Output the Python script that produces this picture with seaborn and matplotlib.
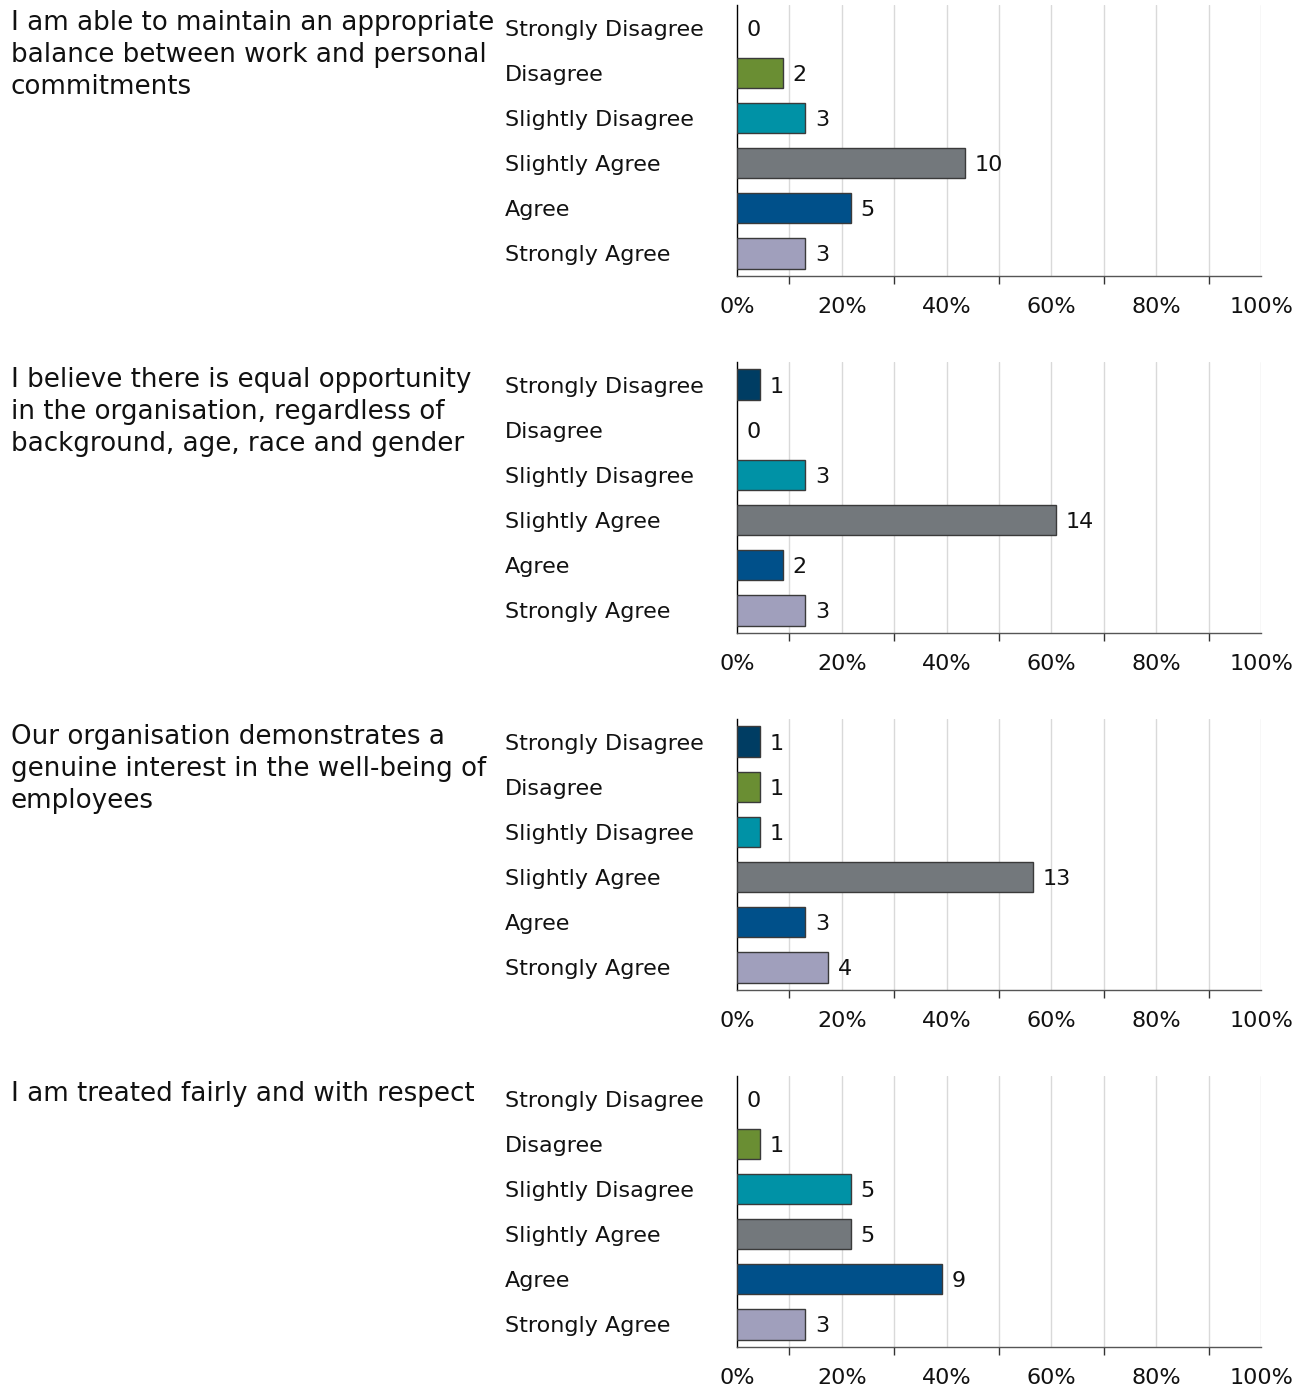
import matplotlib
matplotlib.use("Agg")
import matplotlib.pyplot as plt
from matplotlib.ticker import FixedLocator, FuncFormatter
import seaborn as sns
import pandas as pd

# Response scale and colours
categories = ["Strongly Disagree", "Disagree", "Slightly Disagree",
              "Slightly Agree", "Agree", "Strongly Agree"]
colors = ["#003D63", "#6A8E33", "#0092A6", "#73787C", "#00508A", "#A09FBC"]

# Survey statements
questions = [
    "I am able to maintain an appropriate\nbalance between work and personal\ncommitments",
    "I believe there is equal opportunity\nin the organisation, regardless of\nbackground, age, race and gender",
    "Our organisation demonstrates a\ngenuine interest in the well-being of\nemployees",
    "I am treated fairly and with respect",
]

# Response counts per statement
counts_q1 = [0, 2, 3, 10, 5, 3]
counts_q2 = [1, 0, 3, 14, 2, 3]
counts_q3 = [1, 1, 1, 13, 3, 4]
counts_q4 = [0, 1, 5, 5, 9, 3]
all_counts = [counts_q1, counts_q2, counts_q3, counts_q4]

x_ticks = [0, 20, 40, 60, 80, 100]
x_minor = [10, 30, 50, 70, 90, 100]

sns.set_theme(style="white")
plt.rcParams["font.family"] = ["DejaVu Sans"]

W, H = 1308, 1387
fig = plt.figure(figsize=(W / 100, H / 100), dpi=100)

ax_left, ax_width, ax_height = 737, 524, 271
tops = [5, 362, 719, 1076]
label_fs = 16

for q, counts, top in zip(questions, all_counts, tops):
    total = sum(counts)
    df = pd.DataFrame({
        "category": categories,
        "count": counts,
        "pct": [c / total * 100 for c in counts],
    })
    ax = fig.add_axes([ax_left / W, 1 - (top + ax_height) / H,
                       ax_width / W, ax_height / H])
    sns.barplot(data=df, y="category", x="pct", hue="category",
                palette=colors, order=categories, hue_order=categories,
                orient="h", width=0.67, saturation=1, edgecolor="#3a3a3a",
                linewidth=1, legend=False, ax=ax, zorder=3)
    # hide zero-width bars' outlines
    for patch in ax.patches:
        if patch.get_width() == 0:
            patch.set_visible(False)

    ax.set_xlim(0, 100)
    ax.set_ylim(5.5, -0.5)
    ax.set_xlabel("")
    ax.set_ylabel("")

    # gridlines every 10%
    for g in range(10, 101, 10):
        ax.axvline(g, color="#d9d9d9", lw=1, zorder=0)

    ax.xaxis.set_major_locator(FixedLocator(x_ticks))
    ax.xaxis.set_major_formatter(FuncFormatter(lambda v, p: f"{int(v)}%"))
    ax.xaxis.set_minor_locator(FixedLocator(x_minor))
    ax.tick_params(axis="x", which="major", length=0, pad=15, labelsize=label_fs,
                   labelcolor="#111111")
    ax.tick_params(axis="x", which="minor", length=6, width=1, color="#333333",
                   direction="out", bottom=True)

    ax.tick_params(axis="y", length=0, pad=232 * 0.72, labelsize=label_fs,
                   labelcolor="#111111")
    for lab in ax.get_yticklabels():
        lab.set_horizontalalignment("left")
        lab.set_verticalalignment("center_baseline")

    for s in ["top", "right"]:
        ax.spines[s].set_visible(False)
    ax.spines["left"].set_color("#000000")
    ax.spines["left"].set_linewidth(1)
    ax.spines["bottom"].set_color("#555555")
    ax.spines["bottom"].set_linewidth(1)

    # value labels
    for i, (c, p) in enumerate(zip(counts, df["pct"])):
        ax.annotate(str(c), xy=(p, i), xytext=(7, 0), textcoords="offset points",
                    va="center_baseline", ha="left", fontsize=label_fs,
                    color="#111111")

    fig.text(11 / W, 1 - (top + 5) / H, q, ha="left", va="top",
             fontsize=18.8, color="#111111", linespacing=1.3)

fig.savefig("out.png", dpi=100, facecolor="white")
